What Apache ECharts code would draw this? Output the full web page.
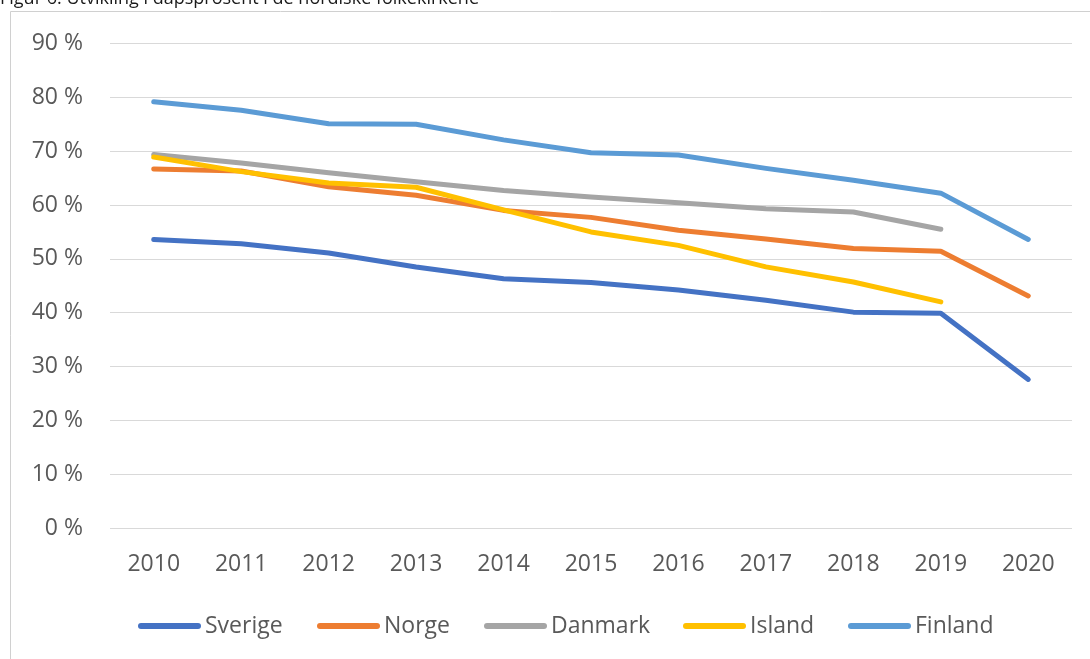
<!DOCTYPE html>
<html>
<head>
<meta charset="utf-8">
<script src="https://cdn.jsdelivr.net/npm/echarts@6/dist/echarts.min.js"></script>
<style>
html,body{margin:0;padding:0;background:#fff;}
#chart{width:1090px;height:659px;}
</style>
</head>
<body>
<div id="chart"></div>
<script>
var titleText = 'Figur 6: Utvikling i dåpsprosent i de nordiske folkekirkene';
var years = ['2010','2011','2012','2013','2014','2015','2016','2017','2018','2019','2020'];
var sverige = [53.6, 52.8, 51.1, 48.5, 46.3, 45.6, 44.2, 42.3, 40.1, 39.9, 27.6];
var norge   = [66.7, 66.3, 63.4, 61.8, 59.0, 57.7, 55.3, 53.7, 51.9, 51.4, 43.1];
var danmark = [69.4, 67.8, 66.0, 64.3, 62.7, 61.5, 60.4, 59.3, 58.7, 55.5, null];
var island  = [68.9, 66.2, 64.1, 63.3, 59.1, 55.0, 52.5, 48.5, 45.7, 42.0, null];
var finland = [79.2, 77.6, 75.1, 75.0, 72.1, 69.7, 69.3, 66.8, 64.6, 62.2, 53.6];
var seriesNames = ['Sverige','Norge','Danmark','Island','Finland'];
var seriesData = [sverige, norge, danmark, island, finland];
var colors = ['#4472C4','#ED7D31','#A5A5A5','#FFC000','#5B9BD5'];
var legendLeft = [133, 312, 479, 678, 843];

var FONT = '"Open Sans", "Noto Sans", sans-serif';
var chart = echarts.init(document.getElementById('chart'), null, {renderer:'canvas'});
var iconPath = 'path://M3,0 L60,0 A3,3 0 0 1 60,6 L3,6 A3,3 0 0 1 3,0 Z';

var option = {
  animation: false,
  backgroundColor: '#ffffff',
  color: colors,
  graphic: [
    {type:'rect', shape:{x:10.5, y:11.5, width:1200, height:800}, style:{fill:'none', stroke:'#d0d0d0', lineWidth:1}, z:0, silent:true},
    {type:'text', left:0, top:-10, style:{text:titleText, font:'18px ' + FONT, fill:'#1a1a1a'}, z:10}
  ],
  grid: {left:110, right:18, top:43.5, bottom:131, containLabel:false},
  legend: seriesNames.map(function(n,i){
    return {
      data:[{name:n, icon:iconPath}],
      left: legendLeft[i], top: 609,
      itemWidth: 63, itemHeight: 6,
      textStyle:{fontFamily:FONT, fontSize:23, color:'#595959', lineHeight:24, padding:[0,0,0,-1]},
      selectedMode:false
    };
  }),
  xAxis: {
    type:'category', data:years, boundaryGap:true,
    axisLine:{show:false}, axisTick:{show:false},
    axisLabel:{fontFamily:FONT, fontSize:23, color:'#595959', margin:25}
  },
  yAxis: {
    type:'value', min:0, max:90, interval:10,
    axisLine:{show:false}, axisTick:{show:false},
    splitLine:{lineStyle:{color:'#d9d9d9', width:1}},
    axisLabel:{fontFamily:FONT, fontSize:23, color:'#595959', margin:27, formatter:'{value} %'}
  },
  series: seriesNames.map(function(n,i){
    return {
      name:n, type:'line', data:seriesData[i],
      showSymbol:false, symbol:'none',
      lineStyle:{width:5, color:colors[i], cap:'round', join:'round'},
      itemStyle:{color:colors[i]},
      connectNulls:false
    };
  })
};
chart.setOption(option);
</script>
</body>
</html>
